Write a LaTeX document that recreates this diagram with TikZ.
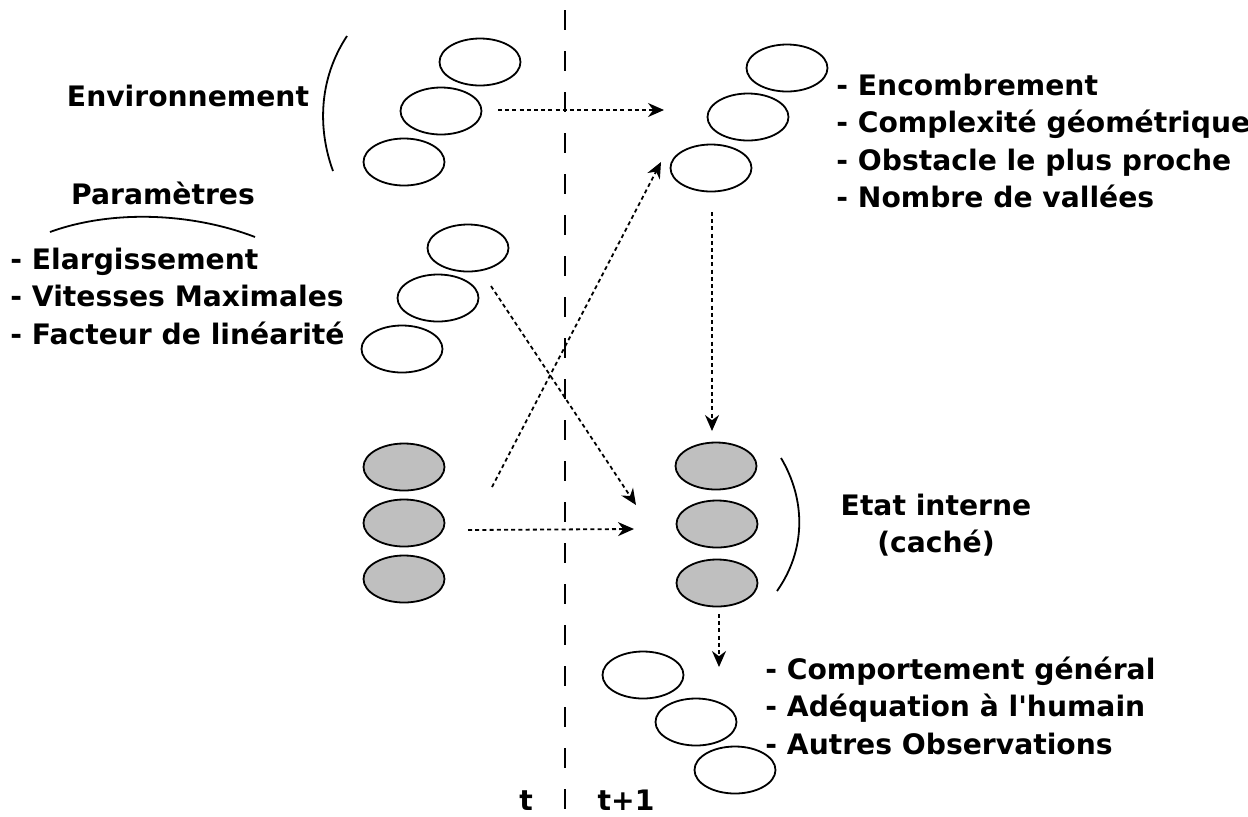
\documentclass[tikz,border=0pt]{standalone}
\usepackage{fontspec}
\setmainfont{DejaVu Sans}[Ligatures=TeXOff]
\usetikzlibrary{arrows.meta,shapes.geometric}
\tikzset{
  etat/.style={ellipse, draw, line width=0.9pt, minimum width=40.5pt, minimum height=23.5pt, inner sep=0pt},
  cache/.style={etat, fill=gray!50},
  lbl/.style={font=\fontsize{14.1}{16}\selectfont\bfseries, inner sep=0pt},
  fleche/.style={-{Stealth[length=8pt,width=7pt]}, line width=0.9pt, dash pattern=on 2pt off 1.6pt},
  accolade/.style={line width=0.9pt},
}

\begin{document}
\begin{tikzpicture}[x=0.5pt, y=-0.5pt]
  \useasboundingbox (0,0) rectangle (1248,816);
  % separation t / t+1
  \draw[line width=1pt, dash pattern=on 10pt off 10.5pt] (565,10) -- (565,816);
  \node[lbl, anchor=base] (tt) at (526,810) {t};
  \node[lbl, anchor=base] (tt1) at (626,810) {t+1};

  % environnement (t)
  \node[etat] (env1) at (480,62) {};
  \node[etat] (env2) at (441,111) {};
  \node[etat] (env3) at (404,162) {};
  \draw[accolade] (347,36) .. controls (318,80) and (318,130) .. (333,171);
  \node[lbl, anchor=base] (envL) at (188,106) {Environnement};

  % parametres (t)
  \node[etat] (par1) at (468,248) {};
  \node[etat] (par2) at (438,298) {};
  \node[etat] (par3) at (402,349) {};
  \node[lbl, anchor=base] (parL) at (163,204) {Paramètres};
  \draw[accolade] (50,232) .. controls (110,210) and (190,212) .. (255,237);
  \node[lbl, anchor=base west] (par1L) at (10,269) {- Elargissement};
  \node[lbl, anchor=base west] (par2L) at (10,306) {- Vitesses Maximales};
  \node[lbl, anchor=base west] (par3L) at (10,344) {- Facteur de linéarité};

  % etat interne (t)
  \node[cache] (int1) at (404,467) {};
  \node[cache] (int2) at (404,523) {};
  \node[cache] (int3) at (404,579) {};

  % environnement (t+1)
  \node[etat] (envB1) at (787,68) {};
  \node[etat] (envB2) at (748,117) {};
  \node[etat] (envB3) at (711,168) {};
  \node[lbl, anchor=base west] (enc) at (836,95) {- Encombrement};
  \node[lbl, anchor=base west] (cpx) at (836,132) {- Complexité géométrique};
  \node[lbl, anchor=base west] (obst) at (836,170) {- Obstacle le plus proche};
  \node[lbl, anchor=base west] (vall) at (836,207) {- Nombre de vallées};

  % etat interne (t+1)
  \node[cache] (intB1) at (716,466) {};
  \node[cache] (intB2) at (717,524) {};
  \node[cache] (intB3) at (717,583) {};
  \draw[accolade] (781,458) .. controls (806,500) and (806,550) .. (777,591);
  \node[lbl, anchor=base] (intL) at (936,515) {Etat interne};
  \node[lbl, anchor=base] (intL2) at (936,552) {(caché)};

  % observations (t+1)
  \node[etat] (obs1) at (643,675) {};
  \node[etat] (obs2) at (696,722) {};
  \node[etat] (obs3) at (735,770) {};
  \node[lbl, anchor=base west] (comp) at (765,679) {- Comportement général};
  \node[lbl, anchor=base west] (adeq) at (765,716) {- Adéquation à l'humain};
  \node[lbl, anchor=base west] (autr) at (765,754) {- Autres Observations};

  % transitions
  \coordinate (a1) at (498,110); \coordinate (b1) at (664,110);
  \coordinate (a2) at (492,487); \coordinate (b2) at (661,162);
  \coordinate (a3) at (491,286); \coordinate (b3) at (636,505);
  \coordinate (a4) at (468,530); \coordinate (b4) at (634,529);
  \coordinate (a5) at (712,212); \coordinate (b5) at (712,431);
  \coordinate (a6) at (719,614); \coordinate (b6) at (719,667);
  \draw[fleche] (a1) -- (b1);
  \draw[fleche] (a2) -- (b2);
  \draw[fleche] (a3) -- (b3);
  \draw[fleche] (a4) -- (b4);
  \draw[fleche] (a5) -- (b5);
  \draw[fleche] (a6) -- (b6);
\end{tikzpicture}
\end{document}
